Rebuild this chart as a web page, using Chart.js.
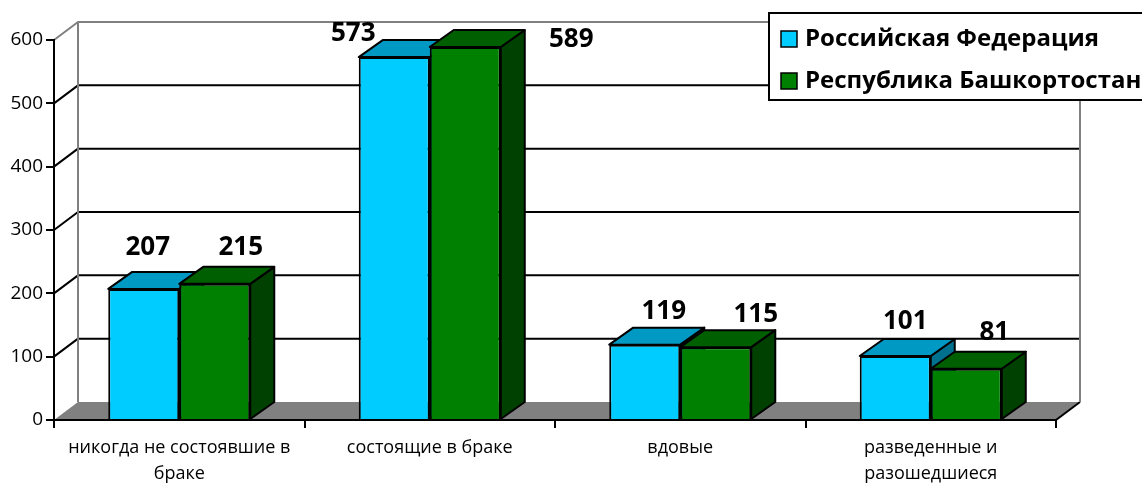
<!DOCTYPE html>
<html>
<head>
<meta charset="utf-8">
<script src="https://cdn.jsdelivr.net/npm/chart.js@4.4.1/dist/chart.umd.min.js"></script>
<style>
  body { margin: 0; background: #fff; }
  canvas { display: block; }
</style>
</head>
<body>
<canvas id="chart" width="1142" height="484"></canvas>
<script>
// данные
const categories = [
  ['никогда не состоявшие в', 'браке'],
  'состоящие в браке',
  'вдовые',
  ['разведенные и', 'разошедшиеся']
];
const seriesNames = ['Российская Федерация', 'Республика Башкортостан'];
const russia = [207, 573, 119, 101];
const bashkortostan = [215, 589, 115, 81];
const yTicks = [0, 100, 200, 300, 400, 500, 600];

// сдвиг подписей значений относительно верха столбца (как в исходнике)
const labelOffsets = [
  [[4, -41], [-41, -24], [19, -33], [10, -34]],
  [[26, -36], [106, -7], [40, -33], [28, -36]]
];

const faces = [
  { front: '#00ccff', top: '#0099c4', side: '#00708f' },
  { front: '#008000', top: '#005f00', side: '#004000' }
];

const WALL_DX = 24, WALL_DY = -18;
const BAR_DX = 24, BAR_DY = -17;
const FONT = "'Open Sans', sans-serif";

function poly(ctx, pts, fill, stroke, lw) {
  ctx.beginPath();
  ctx.moveTo(pts[0][0], pts[0][1]);
  for (let i = 1; i < pts.length; i++) ctx.lineTo(pts[i][0], pts[i][1]);
  ctx.closePath();
  if (fill) { ctx.fillStyle = fill; ctx.fill(); }
  if (stroke) { ctx.strokeStyle = stroke; ctx.lineWidth = lw || 2; ctx.stroke(); }
}

const box3d = {
  id: 'box3d',
  beforeDraw(chart) {
    const ctx = chart.ctx;
    const a = chart.chartArea;
    const ys = chart.scales.y;
    ctx.save();
    ctx.lineJoin = 'round';
    // пол
    poly(ctx, [[a.left, a.bottom], [a.left + WALL_DX, a.bottom + WALL_DY],
      [a.right + WALL_DX, a.bottom + WALL_DY], [a.right, a.bottom]], '#808080');
    ctx.strokeStyle = '#000';
    ctx.lineWidth = 2;
    ctx.beginPath();
    ctx.moveTo(a.right, a.bottom);
    ctx.lineTo(a.right + WALL_DX, a.bottom + WALL_DY);
    ctx.stroke();
    // линии сетки на стенках
    yTicks.forEach(v => {
      if (v === 0) return;
      const py = ys.getPixelForValue(v);
      ctx.strokeStyle = v === yTicks[yTicks.length - 1] ? '#808080' : '#000';
      ctx.beginPath();
      ctx.moveTo(a.left, py);
      ctx.lineTo(a.left + WALL_DX, py + WALL_DY);
      ctx.lineTo(a.right + WALL_DX, py + WALL_DY);
      ctx.stroke();
    });
    // рамка задней стенки
    ctx.strokeStyle = '#808080';
    ctx.beginPath();
    ctx.moveTo(a.left + WALL_DX, a.bottom + WALL_DY);
    ctx.lineTo(a.left + WALL_DX, a.top + WALL_DY);
    ctx.moveTo(a.right + WALL_DX, a.top + WALL_DY);
    ctx.lineTo(a.right + WALL_DX, a.bottom + WALL_DY);
    ctx.stroke();
    ctx.restore();
  },
  beforeDatasetsDraw(chart) {
    const ctx = chart.ctx;
    ctx.save();
    ctx.lineJoin = 'round';
    chart.data.datasets.forEach((ds, i) => {
      const meta = chart.getDatasetMeta(i);
      meta.data.forEach(el => {
        const l = el.x - el.width / 2, r = el.x + el.width / 2;
        poly(ctx, [[r, el.y], [r + BAR_DX, el.y + BAR_DY], [r + BAR_DX, el.base + BAR_DY], [r, el.base]],
          faces[i].side, '#000', 2);
        poly(ctx, [[l, el.y], [r, el.y], [r + BAR_DX, el.y + BAR_DY], [l + BAR_DX, el.y + BAR_DY]],
          faces[i].top, '#000', 2);
      });
    });
    ctx.restore();
  },
  afterDatasetsDraw(chart) {
    const ctx = chart.ctx;
    ctx.save();
    // подписи значений
    ctx.font = 'bold 26px ' + FONT;
    ctx.fillStyle = '#000';
    ctx.textAlign = 'center';
    ctx.textBaseline = 'middle';
    chart.data.datasets.forEach((ds, i) => {
      chart.getDatasetMeta(i).data.forEach((el, j) => {
        const off = labelOffsets[i][j];
        ctx.fillText(ds.data[j], el.x + off[0], el.y + off[1]);
      });
    });
    // легенда
    ctx.fillStyle = '#fff';
    ctx.fillRect(769, 13, 400, 87);
    ctx.strokeStyle = '#000';
    ctx.lineWidth = 2;
    ctx.strokeRect(769, 13, 400, 87);
    ctx.font = 'bold 24px ' + FONT;
    ctx.textAlign = 'left';
    seriesNames.forEach((name, i) => {
      const cy = 39 + i * 42;
      ctx.fillStyle = faces[i].front;
      ctx.fillRect(781, cy - 8, 16, 16);
      ctx.lineWidth = 1.5;
      ctx.strokeRect(781, cy - 8, 16, 16);
      ctx.fillStyle = '#000';
      ctx.fillText(name, 805, cy);
    });
    ctx.restore();
  }
};

new Chart(document.getElementById('chart'), {
  type: 'bar',
  data: {
    labels: categories,
    datasets: [
      { label: seriesNames[0], data: russia, backgroundColor: faces[0].front, borderColor: '#000', borderWidth: 2 },
      { label: seriesNames[1], data: bashkortostan, backgroundColor: faces[1].front, borderColor: '#000', borderWidth: 2 }
    ]
  },
  options: {
    responsive: false,
    animation: false,
    devicePixelRatio: 1,
    layout: { padding: { top: 40, right: 86, left: 0, bottom: 0 } },
    datasets: { bar: { barPercentage: 1, categoryPercentage: 0.567 } },
    plugins: { legend: { display: false }, tooltip: { enabled: false } },
    scales: {
      x: {
        afterFit: s => { s.height = 64; },
        grid: { drawOnChartArea: false, drawTicks: true, tickLength: 8, color: '#000', lineWidth: 2 },
        border: { display: true, color: '#000', width: 2 },
        ticks: { color: '#000', font: { family: FONT, size: 18, lineHeight: 1.45 }, maxRotation: 0, autoSkip: false, padding: 7 }
      },
      y: {
        min: 0, max: 600,
        afterFit: s => { s.width = 54; },
        afterBuildTicks: s => { s.ticks = yTicks.map(v => ({ value: v })); },
        grid: { drawOnChartArea: false, drawTicks: true, tickLength: 8, color: '#000', lineWidth: 2 },
        border: { display: true, color: '#000', width: 2 },
        ticks: { color: '#000', font: { family: FONT, size: 19 }, padding: 3 }
      }
    }
  },
  plugins: [box3d]
});
</script>
</body>
</html>
